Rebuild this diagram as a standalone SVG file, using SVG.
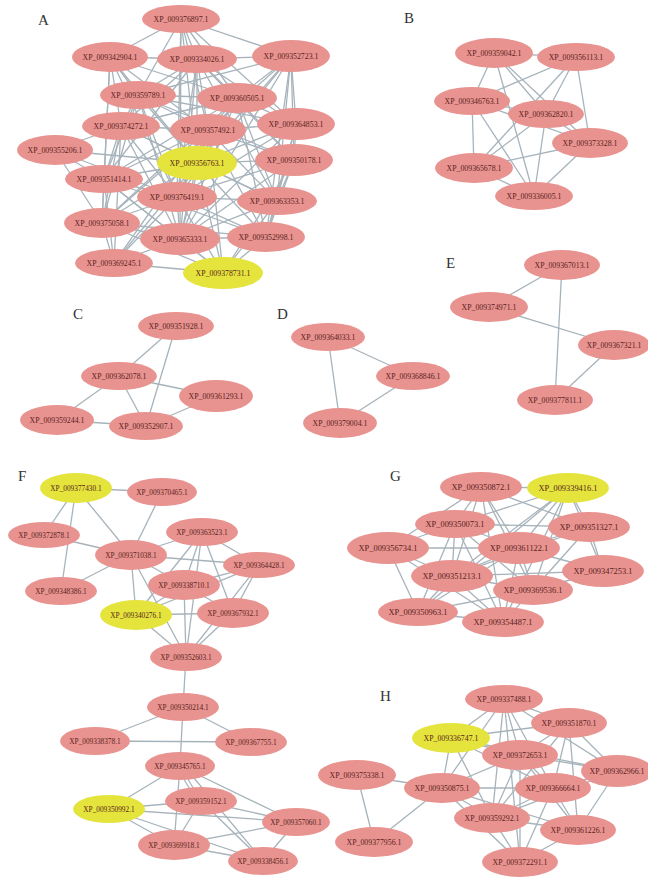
<svg xmlns="http://www.w3.org/2000/svg" width="648" height="877" viewBox="0 0 648 877">
<style>
.n{fill:#e8938f}
.y{fill:#e4e43c}
text{font-family:"Liberation Serif","Times New Roman",serif;font-size:7.8px;fill:#5a1e1e;text-anchor:middle;dominant-baseline:central}
.f text{font-size:7.3px}
.g text{font-size:8.4px}
.lab{font-size:15px;fill:#333;text-anchor:start}
#edges line{stroke:#a7b3bb;stroke-width:1.3}
</style>
<rect width="648" height="877" fill="#fff"/>
<text class="lab" x="38" y="20">A</text>
<text class="lab" x="404" y="18">B</text>
<text class="lab" x="73" y="314">C</text>
<text class="lab" x="277" y="314">D</text>
<text class="lab" x="446" y="263">E</text>
<text class="lab" x="18" y="476">F</text>
<text class="lab" x="390" y="476">G</text>
<text class="lab" x="380" y="696">H</text>
<g id="edges">
<!-- A -->
<line x1="181" y1="19" x2="110" y2="57"/><line x1="181" y1="19" x2="197" y2="59"/><line x1="181" y1="19" x2="291" y2="56"/><line x1="181" y1="19" x2="237" y2="98"/><line x1="181" y1="19" x2="208" y2="130"/><line x1="181" y1="19" x2="197" y2="163"/><line x1="181" y1="19" x2="177" y2="197"/><line x1="181" y1="19" x2="180" y2="239"/><line x1="181" y1="19" x2="296" y2="124"/><line x1="181" y1="19" x2="138" y2="95"/>
<line x1="110" y1="57" x2="197" y2="59"/><line x1="110" y1="57" x2="138" y2="95"/><line x1="110" y1="57" x2="121" y2="126"/><line x1="110" y1="57" x2="208" y2="130"/><line x1="110" y1="57" x2="197" y2="163"/><line x1="110" y1="57" x2="104" y2="179"/><line x1="110" y1="57" x2="177" y2="197"/><line x1="110" y1="57" x2="237" y2="98"/><line x1="110" y1="57" x2="102" y2="223"/>
<line x1="197" y1="59" x2="291" y2="56"/><line x1="197" y1="59" x2="138" y2="95"/><line x1="197" y1="59" x2="237" y2="98"/><line x1="197" y1="59" x2="121" y2="126"/><line x1="197" y1="59" x2="208" y2="130"/><line x1="197" y1="59" x2="296" y2="124"/><line x1="197" y1="59" x2="197" y2="163"/><line x1="197" y1="59" x2="294" y2="160"/><line x1="197" y1="59" x2="177" y2="197"/><line x1="197" y1="59" x2="277" y2="201"/><line x1="197" y1="59" x2="180" y2="239"/><line x1="197" y1="59" x2="104" y2="179"/>
<line x1="291" y1="56" x2="237" y2="98"/><line x1="291" y1="56" x2="208" y2="130"/><line x1="291" y1="56" x2="296" y2="124"/><line x1="291" y1="56" x2="294" y2="160"/><line x1="291" y1="56" x2="277" y2="201"/><line x1="291" y1="56" x2="266" y2="237"/><line x1="291" y1="56" x2="197" y2="163"/><line x1="291" y1="56" x2="177" y2="197"/><line x1="291" y1="56" x2="138" y2="95"/><line x1="291" y1="56" x2="180" y2="239"/>
<line x1="138" y1="95" x2="237" y2="98"/><line x1="138" y1="95" x2="121" y2="126"/><line x1="138" y1="95" x2="208" y2="130"/><line x1="138" y1="95" x2="197" y2="163"/><line x1="138" y1="95" x2="104" y2="179"/><line x1="138" y1="95" x2="177" y2="197"/><line x1="138" y1="95" x2="102" y2="223"/><line x1="138" y1="95" x2="294" y2="160"/><line x1="138" y1="95" x2="180" y2="239"/><line x1="138" y1="95" x2="296" y2="124"/>
<line x1="237" y1="98" x2="121" y2="126"/><line x1="237" y1="98" x2="208" y2="130"/><line x1="237" y1="98" x2="296" y2="124"/><line x1="237" y1="98" x2="197" y2="163"/><line x1="237" y1="98" x2="294" y2="160"/><line x1="237" y1="98" x2="104" y2="179"/><line x1="237" y1="98" x2="177" y2="197"/><line x1="237" y1="98" x2="277" y2="201"/><line x1="237" y1="98" x2="180" y2="239"/><line x1="237" y1="98" x2="266" y2="237"/><line x1="237" y1="98" x2="102" y2="223"/>
<line x1="121" y1="126" x2="208" y2="130"/><line x1="121" y1="126" x2="55" y2="150"/><line x1="121" y1="126" x2="197" y2="163"/><line x1="121" y1="126" x2="104" y2="179"/><line x1="121" y1="126" x2="177" y2="197"/><line x1="121" y1="126" x2="102" y2="223"/><line x1="121" y1="126" x2="180" y2="239"/><line x1="121" y1="126" x2="277" y2="201"/><line x1="121" y1="126" x2="114" y2="263"/>
<line x1="208" y1="130" x2="296" y2="124"/><line x1="208" y1="130" x2="197" y2="163"/><line x1="208" y1="130" x2="294" y2="160"/><line x1="208" y1="130" x2="104" y2="179"/><line x1="208" y1="130" x2="177" y2="197"/><line x1="208" y1="130" x2="277" y2="201"/><line x1="208" y1="130" x2="102" y2="223"/><line x1="208" y1="130" x2="180" y2="239"/><line x1="208" y1="130" x2="266" y2="237"/><line x1="208" y1="130" x2="114" y2="263"/><line x1="208" y1="130" x2="223" y2="273"/>
<line x1="296" y1="124" x2="197" y2="163"/><line x1="296" y1="124" x2="294" y2="160"/><line x1="296" y1="124" x2="277" y2="201"/><line x1="296" y1="124" x2="177" y2="197"/><line x1="296" y1="124" x2="266" y2="237"/><line x1="296" y1="124" x2="180" y2="239"/>
<line x1="55" y1="150" x2="104" y2="179"/><line x1="55" y1="150" x2="177" y2="197"/><line x1="55" y1="150" x2="102" y2="223"/><line x1="55" y1="150" x2="197" y2="163"/>
<line x1="197" y1="163" x2="294" y2="160"/><line x1="197" y1="163" x2="104" y2="179"/><line x1="197" y1="163" x2="177" y2="197"/><line x1="197" y1="163" x2="277" y2="201"/><line x1="197" y1="163" x2="102" y2="223"/><line x1="197" y1="163" x2="180" y2="239"/><line x1="197" y1="163" x2="266" y2="237"/><line x1="197" y1="163" x2="114" y2="263"/><line x1="197" y1="163" x2="223" y2="273"/>
<line x1="294" y1="160" x2="177" y2="197"/><line x1="294" y1="160" x2="277" y2="201"/><line x1="294" y1="160" x2="180" y2="239"/><line x1="294" y1="160" x2="266" y2="237"/><line x1="294" y1="160" x2="223" y2="273"/>
<line x1="104" y1="179" x2="177" y2="197"/><line x1="104" y1="179" x2="102" y2="223"/><line x1="104" y1="179" x2="180" y2="239"/><line x1="104" y1="179" x2="266" y2="237"/><line x1="104" y1="179" x2="114" y2="263"/><line x1="104" y1="179" x2="223" y2="273"/>
<line x1="177" y1="197" x2="277" y2="201"/><line x1="177" y1="197" x2="102" y2="223"/><line x1="177" y1="197" x2="180" y2="239"/><line x1="177" y1="197" x2="266" y2="237"/><line x1="177" y1="197" x2="114" y2="263"/><line x1="177" y1="197" x2="223" y2="273"/>
<line x1="277" y1="201" x2="180" y2="239"/><line x1="277" y1="201" x2="266" y2="237"/><line x1="277" y1="201" x2="223" y2="273"/>
<line x1="102" y1="223" x2="180" y2="239"/><line x1="102" y1="223" x2="114" y2="263"/><line x1="102" y1="223" x2="223" y2="273"/><line x1="102" y1="223" x2="266" y2="237"/>
<line x1="180" y1="239" x2="266" y2="237"/><line x1="180" y1="239" x2="114" y2="263"/><line x1="180" y1="239" x2="223" y2="273"/><line x1="266" y1="237" x2="223" y2="273"/><line x1="114" y1="263" x2="223" y2="273"/>
<!-- B -->
<line x1="494" y1="53" x2="576" y2="57"/><line x1="494" y1="53" x2="472" y2="101"/><line x1="494" y1="53" x2="546" y2="114"/><line x1="494" y1="53" x2="534" y2="196"/><line x1="494" y1="53" x2="590" y2="143"/>
<line x1="576" y1="57" x2="472" y2="101"/><line x1="576" y1="57" x2="546" y2="114"/><line x1="576" y1="57" x2="590" y2="143"/><line x1="576" y1="57" x2="474" y2="168"/>
<line x1="472" y1="101" x2="546" y2="114"/><line x1="472" y1="101" x2="474" y2="168"/><line x1="472" y1="101" x2="534" y2="196"/><line x1="472" y1="101" x2="590" y2="143"/>
<line x1="546" y1="114" x2="474" y2="168"/><line x1="546" y1="114" x2="534" y2="196"/><line x1="546" y1="114" x2="590" y2="143"/>
<line x1="590" y1="143" x2="474" y2="168"/><line x1="590" y1="143" x2="534" y2="196"/><line x1="474" y1="168" x2="534" y2="196"/>
<!-- C -->
<line x1="176" y1="326" x2="119" y2="376"/><line x1="176" y1="326" x2="146" y2="426"/><line x1="119" y1="376" x2="216" y2="396"/><line x1="119" y1="376" x2="146" y2="426"/><line x1="119" y1="376" x2="57" y2="420"/><line x1="57" y1="420" x2="146" y2="426"/><line x1="216" y1="396" x2="146" y2="426"/>
<!-- D -->
<line x1="328" y1="337" x2="413" y2="376"/><line x1="328" y1="337" x2="340" y2="423"/><line x1="413" y1="376" x2="340" y2="423"/>
<!-- E -->
<line x1="562" y1="265" x2="489" y2="307"/><line x1="562" y1="265" x2="555" y2="400"/><line x1="489" y1="307" x2="614" y2="345"/><line x1="614" y1="345" x2="555" y2="400"/>
<!-- F -->
<line x1="76" y1="488" x2="162" y2="492"/><line x1="76" y1="488" x2="44" y2="535"/><line x1="76" y1="488" x2="61" y2="591"/><line x1="76" y1="488" x2="131" y2="555"/>
<line x1="162" y1="492" x2="131" y2="555"/><line x1="44" y1="535" x2="131" y2="555"/><line x1="131" y1="555" x2="61" y2="591"/>
<line x1="131" y1="555" x2="202" y2="532"/><line x1="131" y1="555" x2="259" y2="565"/><line x1="131" y1="555" x2="184" y2="585"/><line x1="131" y1="555" x2="136" y2="615"/><line x1="131" y1="555" x2="186" y2="657"/>
<line x1="202" y1="532" x2="184" y2="585"/><line x1="202" y1="532" x2="259" y2="565"/><line x1="202" y1="532" x2="136" y2="615"/><line x1="202" y1="532" x2="233" y2="613"/><line x1="202" y1="532" x2="186" y2="657"/>
<line x1="259" y1="565" x2="184" y2="585"/><line x1="259" y1="565" x2="233" y2="613"/><line x1="259" y1="565" x2="136" y2="615"/><line x1="259" y1="565" x2="186" y2="657"/>
<line x1="184" y1="585" x2="136" y2="615"/><line x1="184" y1="585" x2="233" y2="613"/><line x1="184" y1="585" x2="186" y2="657"/>
<line x1="136" y1="615" x2="233" y2="613"/><line x1="136" y1="615" x2="186" y2="657"/><line x1="233" y1="613" x2="186" y2="657"/>
<line x1="186" y1="657" x2="183" y2="707"/>
<line x1="183" y1="707" x2="95" y2="741"/><line x1="183" y1="707" x2="251" y2="742"/><line x1="183" y1="707" x2="180" y2="766"/><line x1="95" y1="741" x2="251" y2="742"/>
<line x1="180" y1="766" x2="109" y2="809"/><line x1="180" y1="766" x2="201" y2="801"/><line x1="176" y1="766" x2="197" y2="801"/><line x1="180" y1="766" x2="296" y2="822"/><line x1="180" y1="766" x2="174" y2="845"/><line x1="184" y1="766" x2="263" y2="861"/>
<line x1="109" y1="809" x2="201" y2="801"/><line x1="109" y1="809" x2="296" y2="822"/><line x1="109" y1="809" x2="174" y2="845"/><line x1="109" y1="809" x2="263" y2="861"/>
<line x1="201" y1="801" x2="296" y2="822"/><line x1="201" y1="801" x2="174" y2="845"/><line x1="201" y1="801" x2="263" y2="861"/>
<line x1="296" y1="822" x2="174" y2="845"/><line x1="296" y1="822" x2="263" y2="861"/><line x1="174" y1="845" x2="263" y2="861"/>
<!-- G -->
<line x1="481" y1="487" x2="568" y2="488"/><line x1="481" y1="487" x2="455" y2="524"/><line x1="481" y1="487" x2="388" y2="548"/><line x1="481" y1="487" x2="519" y2="548"/><line x1="481" y1="487" x2="452" y2="576"/><line x1="481" y1="487" x2="533" y2="590"/><line x1="481" y1="487" x2="503" y2="622"/><line x1="481" y1="487" x2="589" y2="527"/>
<line x1="568" y1="488" x2="455" y2="524"/><line x1="568" y1="488" x2="519" y2="548"/><line x1="568" y1="488" x2="452" y2="576"/><line x1="568" y1="488" x2="533" y2="590"/><line x1="568" y1="488" x2="589" y2="527"/><line x1="568" y1="488" x2="603" y2="571"/><line x1="568" y1="488" x2="418" y2="612"/><line x1="568" y1="488" x2="503" y2="622"/>
<line x1="455" y1="524" x2="388" y2="548"/><line x1="455" y1="524" x2="519" y2="548"/><line x1="455" y1="524" x2="452" y2="576"/><line x1="455" y1="524" x2="533" y2="590"/><line x1="455" y1="524" x2="418" y2="612"/><line x1="455" y1="524" x2="503" y2="622"/><line x1="455" y1="524" x2="589" y2="527"/>
<line x1="589" y1="527" x2="519" y2="548"/><line x1="589" y1="527" x2="603" y2="571"/><line x1="589" y1="527" x2="533" y2="590"/><line x1="589" y1="527" x2="452" y2="576"/>
<line x1="388" y1="548" x2="519" y2="548"/><line x1="388" y1="548" x2="452" y2="576"/><line x1="388" y1="548" x2="418" y2="612"/><line x1="388" y1="548" x2="503" y2="622"/>
<line x1="519" y1="548" x2="452" y2="576"/><line x1="519" y1="548" x2="533" y2="590"/><line x1="519" y1="548" x2="603" y2="571"/><line x1="519" y1="548" x2="503" y2="622"/><line x1="519" y1="548" x2="418" y2="612"/>
<line x1="603" y1="571" x2="533" y2="590"/><line x1="603" y1="571" x2="452" y2="576"/>
<line x1="452" y1="576" x2="533" y2="590"/><line x1="452" y1="576" x2="418" y2="612"/><line x1="452" y1="576" x2="503" y2="622"/>
<line x1="533" y1="590" x2="503" y2="622"/><line x1="533" y1="590" x2="418" y2="612"/><line x1="418" y1="612" x2="503" y2="622"/>
<!-- H -->
<line x1="357" y1="775" x2="442" y2="788"/><line x1="357" y1="775" x2="374" y2="842"/><line x1="374" y1="842" x2="442" y2="788"/>
<line x1="442" y1="788" x2="451" y2="738"/><line x1="442" y1="788" x2="520" y2="755"/><line x1="442" y1="788" x2="553" y2="788"/><line x1="442" y1="788" x2="492" y2="818"/><line x1="442" y1="788" x2="578" y2="830"/><line x1="442" y1="788" x2="520" y2="862"/><line x1="442" y1="788" x2="504" y2="699"/>
<line x1="451" y1="738" x2="504" y2="699"/><line x1="451" y1="738" x2="569" y2="723"/><line x1="451" y1="738" x2="520" y2="755"/><line x1="451" y1="738" x2="553" y2="788"/><line x1="451" y1="738" x2="492" y2="818"/><line x1="451" y1="738" x2="617" y2="771"/>
<line x1="504" y1="699" x2="569" y2="723"/><line x1="504" y1="699" x2="520" y2="755"/><line x1="504" y1="699" x2="553" y2="788"/><line x1="504" y1="699" x2="492" y2="818"/><line x1="504" y1="699" x2="617" y2="771"/><line x1="504" y1="699" x2="520" y2="862"/>
<line x1="569" y1="723" x2="520" y2="755"/><line x1="569" y1="723" x2="617" y2="771"/><line x1="569" y1="723" x2="553" y2="788"/><line x1="569" y1="723" x2="578" y2="830"/><line x1="569" y1="723" x2="492" y2="818"/>
<line x1="520" y1="755" x2="553" y2="788"/><line x1="520" y1="755" x2="492" y2="818"/><line x1="520" y1="755" x2="617" y2="771"/><line x1="520" y1="755" x2="578" y2="830"/><line x1="520" y1="755" x2="520" y2="862"/>
<line x1="553" y1="788" x2="617" y2="771"/><line x1="553" y1="788" x2="492" y2="818"/><line x1="553" y1="788" x2="578" y2="830"/><line x1="553" y1="788" x2="520" y2="862"/>
<line x1="617" y1="771" x2="578" y2="830"/><line x1="617" y1="771" x2="492" y2="818"/>
<line x1="492" y1="818" x2="520" y2="862"/><line x1="492" y1="818" x2="578" y2="830"/><line x1="578" y1="830" x2="520" y2="862"/>
</g>
<!-- Panel A nodes -->
<g id="A_376897"><ellipse class="n" cx="181" cy="19" rx="39" ry="14"/><text x="181" y="19">XP_009376897.1</text></g>
<g id="A_342904"><ellipse class="n" cx="110" cy="57" rx="38" ry="15"/><text x="110" y="57">XP_009342904.1</text></g>
<g id="A_334026"><ellipse class="n" cx="197" cy="59" rx="40" ry="14"/><text x="197" y="59">XP_009334026.1</text></g>
<g id="A_352723"><ellipse class="n" cx="291" cy="56" rx="39" ry="16"/><text x="291" y="56">XP_009352723.1</text></g>
<g id="A_359789"><ellipse class="n" cx="138" cy="95" rx="38" ry="14"/><text x="138" y="95">XP_009359789.1</text></g>
<g id="A_360505"><ellipse class="n" cx="237" cy="98" rx="40" ry="15"/><text x="237" y="98">XP_009360505.1</text></g>
<g id="A_374272"><ellipse class="n" cx="121" cy="126" rx="39" ry="14"/><text x="121" y="126">XP_009374272.1</text></g>
<g id="A_357492"><ellipse class="n" cx="208" cy="130" rx="38" ry="16"/><text x="208" y="130">XP_009357492.1</text></g>
<g id="A_364853"><ellipse class="n" cx="296" cy="124" rx="39" ry="16"/><text x="296" y="124">XP_009364853.1</text></g>
<g id="A_355206"><ellipse class="n" cx="55" cy="150" rx="38" ry="15"/><text x="55" y="150">XP_009355206.1</text></g>
<g id="A_356763"><ellipse class="y" cx="197" cy="163" rx="40" ry="17"/><text x="197" y="163">XP_009356763.1</text></g>
<g id="A_350178"><ellipse class="n" cx="294" cy="160" rx="39" ry="16"/><text x="294" y="160">XP_009350178.1</text></g>
<g id="A_351414"><ellipse class="n" cx="104" cy="179" rx="39" ry="14"/><text x="104" y="179">XP_009351414.1</text></g>
<g id="A_376419"><ellipse class="n" cx="177" cy="197" rx="40" ry="15"/><text x="177" y="197">XP_009376419.1</text></g>
<g id="A_363353"><ellipse class="n" cx="277" cy="201" rx="40" ry="14"/><text x="277" y="201">XP_009363353.1</text></g>
<g id="A_375058"><ellipse class="n" cx="102" cy="223" rx="38" ry="15"/><text x="102" y="223">XP_009375058.1</text></g>
<g id="A_365333"><ellipse class="n" cx="180" cy="239" rx="40" ry="16"/><text x="180" y="239">XP_009365333.1</text></g>
<g id="A_352998"><ellipse class="n" cx="266" cy="237" rx="39" ry="15"/><text x="266" y="237">XP_009352998.1</text></g>
<g id="A_369245"><ellipse class="n" cx="114" cy="263" rx="39" ry="14"/><text x="114" y="263">XP_009369245.1</text></g>
<g id="A_378731"><ellipse class="y" cx="223" cy="273" rx="40" ry="16"/><text x="223" y="273">XP_009378731.1</text></g>
<!-- Panel B -->
<g id="B_359042"><ellipse class="n" cx="494" cy="53" rx="39" ry="15"/><text x="494" y="53">XP_009359042.1</text></g>
<g id="B_356113"><ellipse class="n" cx="576" cy="57" rx="39" ry="14"/><text x="576" y="57">XP_009356113.1</text></g>
<g id="B_346763"><ellipse class="n" cx="472" cy="101" rx="38" ry="14"/><text x="472" y="101">XP_009346763.1</text></g>
<g id="B_362820"><ellipse class="n" cx="546" cy="114" rx="38" ry="14"/><text x="546" y="114">XP_009362820.1</text></g>
<g id="B_373328"><ellipse class="n" cx="590" cy="143" rx="38" ry="15"/><text x="590" y="143">XP_009373328.1</text></g>
<g id="B_365678"><ellipse class="n" cx="474" cy="168" rx="39" ry="15"/><text x="474" y="168">XP_009365678.1</text></g>
<g id="B_336005"><ellipse class="n" cx="534" cy="196" rx="39" ry="14"/><text x="534" y="196">XP_009336005.1</text></g>
<!-- Panel C -->
<g id="C_351928"><ellipse class="n" cx="176" cy="326" rx="38" ry="14"/><text x="176" y="326">XP_009351928.1</text></g>
<g id="C_362078"><ellipse class="n" cx="119" cy="376" rx="38" ry="14"/><text x="119" y="376">XP_009362078.1</text></g>
<g id="C_361293"><ellipse class="n" cx="216" cy="396" rx="37" ry="16"/><text x="216" y="396">XP_009361293.1</text></g>
<g id="C_359244"><ellipse class="n" cx="57" cy="420" rx="37" ry="15"/><text x="57" y="420">XP_009359244.1</text></g>
<g id="C_352907"><ellipse class="n" cx="146" cy="426" rx="37" ry="14"/><text x="146" y="426">XP_009352907.1</text></g>
<!-- Panel D -->
<g id="D_364033"><ellipse class="n" cx="328" cy="337" rx="37" ry="14"/><text x="328" y="337">XP_009364033.1</text></g>
<g id="D_368846"><ellipse class="n" cx="413" cy="376" rx="37" ry="14"/><text x="413" y="376">XP_009368846.1</text></g>
<g id="D_379004"><ellipse class="n" cx="340" cy="423" rx="37" ry="15"/><text x="340" y="423">XP_009379004.1</text></g>
<!-- Panel E -->
<g id="E_367013"><ellipse class="n" cx="562" cy="265" rx="38" ry="15"/><text x="562" y="265">XP_009367013.1</text></g>
<g id="E_374971"><ellipse class="n" cx="489" cy="307" rx="39" ry="15"/><text x="489" y="307">XP_009374971.1</text></g>
<g id="E_367321"><ellipse class="n" cx="614" cy="345" rx="36" ry="15"/><text x="614" y="345">XP_009367321.1</text></g>
<g id="E_377811"><ellipse class="n" cx="555" cy="400" rx="38" ry="15"/><text x="555" y="400">XP_009377811.1</text></g>
<!-- Panel F -->
<g class="f">
<g id="F_377430"><ellipse class="y" cx="76" cy="488" rx="36" ry="15"/><text x="76" y="488">XP_009377430.1</text></g>
<g id="F_370465"><ellipse class="n" cx="162" cy="492" rx="35" ry="14"/><text x="162" y="492">XP_009370465.1</text></g>
<g id="F_372878"><ellipse class="n" cx="44" cy="535" rx="36" ry="13"/><text x="44" y="535">XP_009372878.1</text></g>
<g id="F_363523"><ellipse class="n" cx="202" cy="532" rx="36" ry="14"/><text x="202" y="532">XP_009363523.1</text></g>
<g id="F_371038"><ellipse class="n" cx="131" cy="555" rx="36" ry="15"/><text x="131" y="555">XP_009371038.1</text></g>
<g id="F_364428"><ellipse class="n" cx="259" cy="565" rx="36" ry="13"/><text x="259" y="565">XP_009364428.1</text></g>
<g id="F_348386"><ellipse class="n" cx="61" cy="591" rx="36" ry="14"/><text x="61" y="591">XP_009348386.1</text></g>
<g id="F_338710"><ellipse class="n" cx="184" cy="585" rx="36" ry="15"/><text x="184" y="585">XP_009338710.1</text></g>
<g id="F_340276"><ellipse class="y" cx="136" cy="615" rx="36" ry="15"/><text x="136" y="615">XP_009340276.1</text></g>
<g id="F_367932"><ellipse class="n" cx="233" cy="613" rx="36" ry="15"/><text x="233" y="613">XP_009367932.1</text></g>
<g id="F_352603"><ellipse class="n" cx="186" cy="657" rx="36" ry="14"/><text x="186" y="657">XP_009352603.1</text></g>
<g id="F_350214"><ellipse class="n" cx="183" cy="707" rx="36" ry="14"/><text x="183" y="707">XP_009350214.1</text></g>
<g id="F_338378"><ellipse class="n" cx="95" cy="741" rx="35" ry="14"/><text x="95" y="741">XP_009338378.1</text></g>
<g id="F_367755"><ellipse class="n" cx="251" cy="742" rx="36" ry="14"/><text x="251" y="742">XP_009367755.1</text></g>
<g id="F_345765"><ellipse class="n" cx="180" cy="766" rx="35" ry="14"/><text x="180" y="766">XP_009345765.1</text></g>
<g id="F_359152"><ellipse class="n" cx="201" cy="801" rx="36" ry="14"/><text x="201" y="801">XP_009359152.1</text></g>
<g id="F_350992"><ellipse class="y" cx="109" cy="809" rx="36" ry="14"/><text x="109" y="809">XP_009350992.1</text></g>
<g id="F_357060"><ellipse class="n" cx="296" cy="822" rx="34" ry="14"/><text x="296" y="822">XP_009357060.1</text></g>
<g id="F_369918"><ellipse class="n" cx="174" cy="845" rx="36" ry="15"/><text x="174" y="845">XP_009369918.1</text></g>
<g id="F_338456"><ellipse class="n" cx="263" cy="861" rx="35" ry="14"/><text x="263" y="861">XP_009338456.1</text></g>
</g>
<!-- Panel G -->
<g class="g">
<g id="G_350872"><ellipse class="n" cx="481" cy="487" rx="41" ry="15"/><text x="481" y="487">XP_009350872.1</text></g>
<g id="G_339416"><ellipse class="y" cx="568" cy="488" rx="41" ry="15"/><text x="568" y="488">XP_009339416.1</text></g>
<g id="G_350073"><ellipse class="n" cx="455" cy="524" rx="40" ry="14"/><text x="455" y="524">XP_009350073.1</text></g>
<g id="G_351327"><ellipse class="n" cx="589" cy="527" rx="41" ry="15"/><text x="589" y="527">XP_009351327.1</text></g>
<g id="G_356734"><ellipse class="n" cx="388" cy="548" rx="41" ry="16"/><text x="388" y="548">XP_009356734.1</text></g>
<g id="G_361122"><ellipse class="n" cx="519" cy="548" rx="41" ry="16"/><text x="519" y="548">XP_009361122.1</text></g>
<g id="G_347253"><ellipse class="n" cx="603" cy="571" rx="41" ry="16"/><text x="603" y="571">XP_009347253.1</text></g>
<g id="G_351213"><ellipse class="n" cx="452" cy="576" rx="41" ry="16"/><text x="452" y="576">XP_009351213.1</text></g>
<g id="G_369536"><ellipse class="n" cx="533" cy="590" rx="40" ry="15"/><text x="533" y="590">XP_009369536.1</text></g>
<g id="G_350963"><ellipse class="n" cx="418" cy="612" rx="40" ry="14"/><text x="418" y="612">XP_009350963.1</text></g>
<g id="G_354487"><ellipse class="n" cx="503" cy="622" rx="41" ry="15"/><text x="503" y="622">XP_009354487.1</text></g>
</g>
<!-- Panel H -->
<g id="H_337488"><ellipse class="n" cx="504" cy="699" rx="39" ry="14"/><text x="504" y="699">XP_009337488.1</text></g>
<g id="H_351870"><ellipse class="n" cx="569" cy="723" rx="38" ry="15"/><text x="569" y="723">XP_009351870.1</text></g>
<g id="H_336747"><ellipse class="y" cx="451" cy="738" rx="39" ry="15"/><text x="451" y="738">XP_009336747.1</text></g>
<g id="H_372653"><ellipse class="n" cx="520" cy="755" rx="38" ry="15"/><text x="520" y="755">XP_009372653.1</text></g>
<g id="H_375338"><ellipse class="n" cx="357" cy="775" rx="39" ry="15"/><text x="357" y="775">XP_009375338.1</text></g>
<g id="H_362966"><ellipse class="n" cx="617" cy="771" rx="36" ry="16"/><text x="617" y="771">XP_009362966.1</text></g>
<g id="H_350875"><ellipse class="n" cx="442" cy="788" rx="38" ry="15"/><text x="442" y="788">XP_009350875.1</text></g>
<g id="H_366664"><ellipse class="n" cx="553" cy="788" rx="38" ry="15"/><text x="553" y="788">XP_009366664.1</text></g>
<g id="H_359292"><ellipse class="n" cx="492" cy="818" rx="38" ry="15"/><text x="492" y="818">XP_009359292.1</text></g>
<g id="H_361226"><ellipse class="n" cx="578" cy="830" rx="38" ry="15"/><text x="578" y="830">XP_009361226.1</text></g>
<g id="H_377956"><ellipse class="n" cx="374" cy="842" rx="39" ry="15"/><text x="374" y="842">XP_009377956.1</text></g>
<g id="H_372291"><ellipse class="n" cx="520" cy="862" rx="38" ry="15"/><text x="520" y="862">XP_009372291.1</text></g>
</svg>
